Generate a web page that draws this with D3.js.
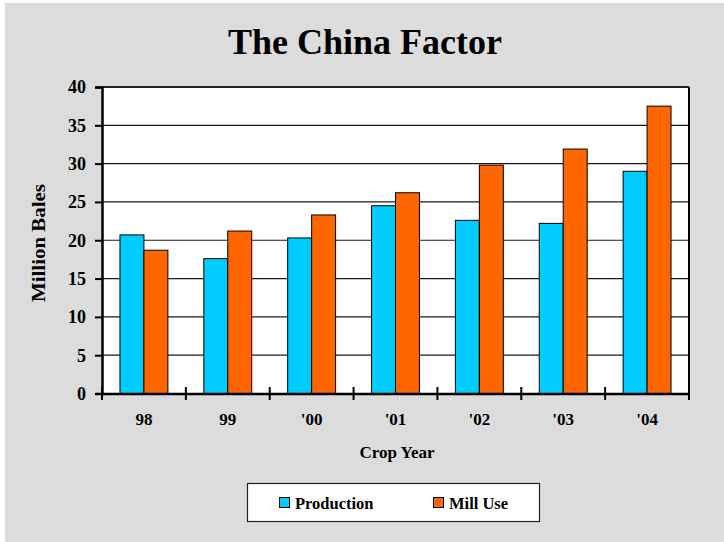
<!DOCTYPE html>
<html>
<head>
<meta charset="utf-8">
<script src="https://cdn.jsdelivr.net/npm/d3@7"></script>
<style>
  html, body { margin: 0; padding: 0; background: #ffffff; }
  svg { display: block; }
  text { font-family: "Liberation Serif", "Times New Roman", serif; font-weight: bold; fill: #000; }
</style>
</head>
<body>
<script>
const categories = ["98", "99", "'00", "'01", "'02", "'03", "'04"];
const seriesNames = ["Production", "Mill Use"];
const production = [20.7, 17.6, 20.3, 24.5, 22.6, 22.2, 29.0];
const millUse = [18.7, 21.2, 23.3, 26.2, 29.8, 31.9, 37.5];
const yTicks = [0, 5, 10, 15, 20, 25, 30, 35, 40];
const colors = ["#00CCFF", "#FF6600"];

(function () {
const W = 724, H = 542;
const svg = d3.select("body").append("svg").attr("width", W).attr("height", H);

// background panel
svg.append("rect").attr("x", 5).attr("y", 3).attr("width", W - 5).attr("height", H - 3).attr("fill", "#DCDCDC");

const pL = 102, pR = 689, pT = 87, pB = 393.5;

const x = d3.scaleBand().domain(categories).range([pL, pR]).paddingInner(0).paddingOuter(0);
const xs = d3.scaleBand().domain(seriesNames).range([0, x.bandwidth()]).paddingInner(0).paddingOuter(0.75);
const y = d3.scaleLinear().domain([0, 40]).range([pB, pT]);

// plot area
svg.append("rect").attr("x", pL).attr("y", pT).attr("width", pR - pL).attr("height", pB - pT).attr("fill", "#fff");

// gridlines
svg.append("g").selectAll("line").data(yTicks.filter(d => d > 0)).join("line")
  .attr("x1", pL).attr("x2", pR)
  .attr("y1", d => y(d)).attr("y2", d => y(d))
  .attr("stroke", "#1a1a1a").attr("stroke-width", 1.2);

// bars
const data = categories.map((c, i) => ({ cat: c, vals: [production[i], millUse[i]] }));
const groups = svg.append("g").selectAll("g").data(data).join("g")
  .attr("transform", d => `translate(${x(d.cat)},0)`);
groups.selectAll("rect").data(d => d.vals.map((v, j) => ({ name: seriesNames[j], v, j }))).join("rect")
  .attr("x", d => xs(d.name))
  .attr("width", xs.bandwidth())
  .attr("y", d => y(d.v))
  .attr("height", d => y(0) - y(d.v))
  .attr("fill", d => colors[d.j])
  .attr("stroke", "#000").attr("stroke-width", 1);

// plot border top & right
svg.append("line").attr("x1", pL).attr("x2", pR).attr("y1", pT).attr("y2", pT).attr("stroke", "#000").attr("stroke-width", 1.5);
svg.append("line").attr("x1", pR).attr("x2", pR).attr("y1", pT).attr("y2", pB).attr("stroke", "#000").attr("stroke-width", 2);

// y axis
const yAxis = d3.axisLeft(y).tickValues(yTicks).tickSize(7).tickPadding(9);
const gy = svg.append("g").attr("transform", `translate(${pL},0)`).call(yAxis);
gy.select(".domain").attr("stroke", "#000").attr("stroke-width", 2.5);
gy.selectAll(".tick line").attr("stroke", "#000").attr("stroke-width", 2);
gy.selectAll(".tick text").attr("font-family", "Liberation Serif").attr("font-weight", "bold").attr("font-size", 18).attr("fill", "#000").attr("dy", "0.33em");

// x axis
const xAxis = d3.axisBottom(x).tickSize(0).tickPadding(19);
const gx = svg.append("g").attr("transform", `translate(0,${pB})`).call(xAxis);
gx.select(".domain").attr("stroke", "#000").attr("stroke-width", 2.5);
gx.selectAll(".tick text").attr("font-family", "Liberation Serif").attr("font-weight", "bold").attr("font-size", 17).attr("fill", "#000");
// cross tick marks at category boundaries
const bounds = categories.map(c => x(c)).concat([x(categories[categories.length - 1]) + x.bandwidth()]);
svg.append("g").selectAll("line").data(bounds).join("line")
  .attr("x1", d => d).attr("x2", d => d)
  .attr("y1", pB - 6.5).attr("y2", pB + 6.5)
  .attr("stroke", "#000").attr("stroke-width", 2);

// title
svg.append("text").attr("x", 365).attr("y", 54).attr("text-anchor", "middle")
  .attr("font-size", 36).text("The China Factor");

// y axis title
svg.append("text").attr("transform", `translate(45,${(184 + 302) / 2}) rotate(-90)`)
  .attr("text-anchor", "middle").attr("font-size", 19)
  .attr("textLength", 118).attr("lengthAdjust", "spacingAndGlyphs")
  .text("Million Bales");

// x axis title
svg.append("text").attr("x", 397).attr("y", 458).attr("text-anchor", "middle")
  .attr("font-size", 17).text("Crop Year");

// legend
const lg = svg.append("g");
lg.append("rect").attr("x", 247.5).attr("y", 483.5).attr("width", 292).attr("height", 38)
  .attr("fill", "#fff").attr("stroke", "#222").attr("stroke-width", 1.2);
const legendX = [279, 433];
seriesNames.forEach((s, i) => {
  lg.append("rect").attr("x", legendX[i] + 0.5).attr("y", 497.5).attr("width", 10).attr("height", 10)
    .attr("fill", colors[i]).attr("stroke", "#000").attr("stroke-width", 1);
  lg.append("text").attr("x", legendX[i] + 16).attr("y", 509).attr("font-size", 16.5).text(s);
});
})();
</script>
</body>
</html>
